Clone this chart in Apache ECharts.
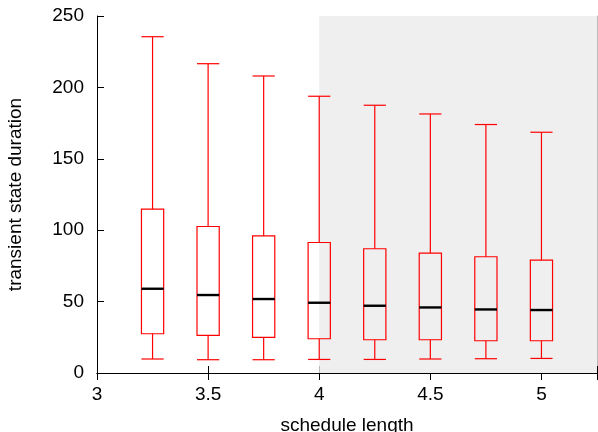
<!DOCTYPE html>
<html>
<head>
<meta charset="utf-8">
<script src="https://cdn.jsdelivr.net/npm/echarts@6/dist/echarts.min.js"></script>
<style>
  html, body { margin: 0; padding: 0; background: #fff; }
  #chart { width: 598px; height: 432px; }
</style>
</head>
<body>
<div id="chart"></div>
<script>
// schedule length positions of the boxes
const positions = [3.25, 3.5, 3.75, 4, 4.25, 4.5, 4.75, 5];
// whisker low, q1, median, q3, whisker high
const whiskerLow = [9.8, 9.3, 9.3, 9.5, 9.5, 9.8, 10, 10.2];
const q1 = [27.5, 26.3, 25, 24, 23.3, 23.3, 22.6, 22.6];
const medians = [59, 54.6, 51.8, 49.2, 47.1, 45.9, 44.5, 44.1];
const q3 = [114.7, 102.6, 96, 91.4, 87, 84, 81.4, 79];
const whiskerHigh = [235.5, 216.6, 208, 193.8, 187.5, 181.4, 174, 168.6];
const xTicks = [3, 3.5, 4, 4.5, 5];
const shadeFrom = 4;

const font = 'Liberation Sans, Arial, sans-serif';
const boxWidth = 0.1;

const chart = echarts.init(document.getElementById('chart'));

const data = positions.map((p, i) => [p, whiskerLow[i], q1[i], medians[i], q3[i], whiskerHigh[i]]);

function renderBox(params, api) {
    const x = api.value(0);
    const pLow = api.coord([x, api.value(1)]);
    const pQ1 = api.coord([x, api.value(2)]);
    const pMed = api.coord([x, api.value(3)]);
    const pQ3 = api.coord([x, api.value(4)]);
    const pHigh = api.coord([x, api.value(5)]);
    const half = api.size([boxWidth, 0])[0] / 2;
    const cx = pLow[0];
    const red = { stroke: '#ff0000', lineWidth: 1.2, fill: null };
    return {
        type: 'group',
        children: [
            { type: 'line', shape: { x1: cx, y1: pHigh[1], x2: cx, y2: pQ3[1] }, style: red },
            { type: 'line', shape: { x1: cx - half, y1: pHigh[1], x2: cx + half, y2: pHigh[1] }, style: red },
            { type: 'line', shape: { x1: cx, y1: pLow[1], x2: cx, y2: pQ1[1] }, style: red },
            { type: 'line', shape: { x1: cx - half, y1: pLow[1], x2: cx + half, y2: pLow[1] }, style: red },
            { type: 'rect', shape: { x: cx - half, y: pQ3[1], width: half * 2, height: pQ1[1] - pQ3[1] },
              style: { stroke: '#ff0000', lineWidth: 1.2, fill: 'transparent' } },
            { type: 'line', shape: { x1: cx - half, y1: pMed[1], x2: cx + half, y2: pMed[1] },
              style: { stroke: '#000', lineWidth: 2.4 } }
        ]
    };
}

const axisLine = { show: true, lineStyle: { color: '#000', width: 1 } };
const tick = { show: true, inside: true, length: 7, lineStyle: { color: '#000' } };

chart.setOption({
    animation: false,
    backgroundColor: '#fff',
    grid: { left: 97, right: 1, top: 16, bottom: 59, outerBoundsMode: 'none', containLabel: false },
    xAxis: [
        {
            type: 'value', min: 3, max: 5.25, interval: 0.5, position: 'bottom',
            name: 'schedule length', nameLocation: 'middle', nameGap: 43,
            nameTextStyle: { fontFamily: font, fontSize: 19, color: '#000', verticalAlign: 'top' },
            axisLine: axisLine, axisTick: tick,
            axisLabel: {
                fontFamily: font, fontSize: 19, color: '#000', margin: 12,
                formatter: v => xTicks.includes(v) ? String(v) : ''
            },
            splitLine: { show: false }
        },
        {
            type: 'value', min: 3, max: 5.25, interval: 0.5, position: 'top',
            axisLine: axisLine, axisTick: tick, axisLabel: { show: false }, splitLine: { show: false }
        }
    ],
    yAxis: [
        {
            type: 'value', min: 0, max: 250, interval: 50,
            name: 'transient state duration', nameLocation: 'middle', nameGap: 72,
            nameTextStyle: { fontFamily: font, fontSize: 19, color: '#000', verticalAlign: 'bottom' },
            axisLine: axisLine, axisTick: tick,
            axisLabel: { fontFamily: font, fontSize: 19, color: '#000', margin: 13 },
            splitLine: { show: false }
        },
        {
            type: 'value', min: 0, max: 250, interval: 50, position: 'right',
            axisLine: { show: true, lineStyle: { color: '#bbb', width: 1 } },
            axisTick: tick, axisLabel: { show: false }, splitLine: { show: false }
        }
    ],
    series: [
        {
            type: 'custom',
            renderItem: renderBox,
            data: data,
            encode: { x: 0, y: [1, 2, 3, 4, 5] },
            clip: false,
            z: 3,
            markArea: {
                silent: true,
                itemStyle: { color: '#efefef' },
                data: [[{ xAxis: shadeFrom }, { xAxis: 5.25 }]]
            }
        }
    ]
});
</script>
</body>
</html>
